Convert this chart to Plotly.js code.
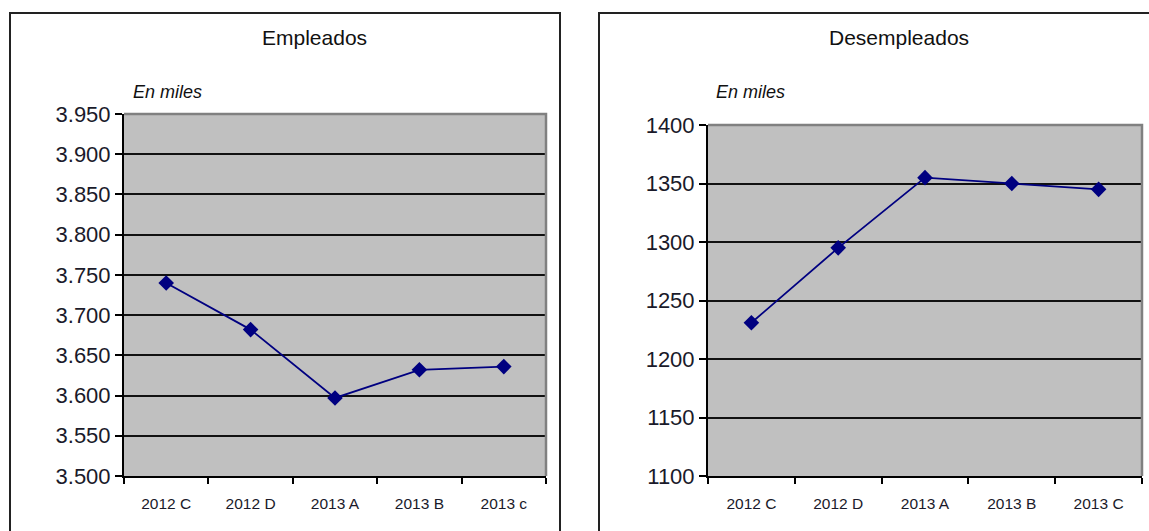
<!DOCTYPE html>
<html>
<head>
<meta charset="utf-8">
<script src="https://cdn.plot.ly/plotly-3.0.1.min.js"></script>
<style>html,body{margin:0;padding:0;background:#fff;}#chart{width:1149px;height:531px;}</style>
</head>
<body>
<div id="chart"></div>
<script>
const categoriesEmp = ["2012 C", "2012 D", "2013 A", "2013 B", "2013 c"];
const empleados = [3740, 3682, 3597, 3632, 3636];
const categoriesDes = ["2012 C", "2012 D", "2013 A", "2013 B", "2013 C"];
const desempleados = [1231, 1295, 1355, 1350, 1345];
const titleEmp = "Empleados";
const titleDes = "Desempleados";
const unitLabel = "En miles";

const W = 1149, H = 531;
const px = v => v / W;
const py = v => 1 - v / H;

const navy = "#000080";
const fontFam = "Liberation Sans, Arial, sans-serif";

const traces = [
  {x: categoriesEmp, y: empleados, type: "scatter", mode: "lines+markers",
   xaxis: "x", yaxis: "y",
   line: {color: navy, width: 1.8},
   marker: {symbol: "diamond", size: 12, color: navy}},
  {x: categoriesDes, y: desempleados, type: "scatter", mode: "lines+markers",
   xaxis: "x2", yaxis: "y2",
   line: {color: navy, width: 1.8},
   marker: {symbol: "diamond", size: 12, color: navy}}
];

const xCommon = {
  type: "category", tickson: "boundaries", ticks: "outside", ticklen: 6, tickwidth: 2, tickcolor: "#000",
  showline: true, linecolor: "#000", linewidth: 2, showgrid: false, zeroline: false,
  range: [-0.5, 4.5], fixedrange: true, ticklabelstandoff: 12,
  tickfont: {family: fontFam, size: 15.5, color: "#1a1a2a"}
};
const yCommon = {
  ticks: "outside", ticklen: 7, tickwidth: 2, tickcolor: "#000",
  showline: true, linecolor: "#000", linewidth: 2,
  showgrid: true, gridcolor: "#111", gridwidth: 2, zeroline: false, dtick: 50,
  tickfont: {family: fontFam, size: 22, color: "#1a1a2a"}
};

const layout = {
  width: W, height: H,
  margin: {l: 0, r: 0, t: 0, b: 0},
  paper_bgcolor: "#fff", plot_bgcolor: "#c0c0c0",
  showlegend: false,
  separators: ",.",
  xaxis: Object.assign({}, xCommon, {domain: [px(124), px(546)], anchor: "y"}),
  yaxis: Object.assign({}, yCommon, {domain: [1 - 476 / H, 1 - 114 / H], anchor: "x", range: [3500, 3950], tickformat: ",.0f"}),
  xaxis2: Object.assign({}, xCommon, {domain: [px(708), px(1142)], anchor: "y2"}),
  yaxis2: Object.assign({}, yCommon, {domain: [1 - 476 / H, 1 - 125 / H], anchor: "x2", range: [1100, 1400], tickformat: "d"}),
  shapes: [
    {type: "path", xref: "paper", yref: "paper", layer: "above",
     path: `M ${px(10)} ${py(560)} L ${px(10)} ${py(13)} L ${px(560)} ${py(13)} L ${px(560)} ${py(560)}`,
     line: {color: "#222", width: 2}},
    {type: "path", xref: "paper", yref: "paper", layer: "above",
     path: `M ${px(599)} ${py(560)} L ${px(599)} ${py(13)} L ${px(1160)} ${py(13)}`,
     line: {color: "#222", width: 2}},
    {type: "path", xref: "paper", yref: "paper", layer: "above",
     path: `M ${px(124)} ${py(114)} L ${px(546)} ${py(114)} L ${px(546)} ${py(476)}`,
     line: {color: "#808080", width: 2.5}},
    {type: "path", xref: "paper", yref: "paper", layer: "above",
     path: `M ${px(708)} ${py(125)} L ${px(1142)} ${py(125)} L ${px(1142)} ${py(476)}`,
     line: {color: "#808080", width: 2.5}}
  ],
  annotations: [
    {text: titleEmp, xref: "paper", yref: "paper", x: px(314), y: py(38), xanchor: "center", yanchor: "middle",
     showarrow: false, font: {family: fontFam, size: 21, color: "#111"}},
    {text: titleDes, xref: "paper", yref: "paper", x: px(899), y: py(37), xanchor: "center", yanchor: "middle",
     showarrow: false, font: {family: fontFam, size: 21, color: "#111"}},
    {text: "<i>" + unitLabel + "</i>", xref: "paper", yref: "paper", x: px(131), y: py(92), xanchor: "left", yanchor: "middle",
     showarrow: false, font: {family: fontFam, size: 18, color: "#111"}},
    {text: "<i>" + unitLabel + "</i>", xref: "paper", yref: "paper", x: px(714), y: py(92), xanchor: "left", yanchor: "middle",
     showarrow: false, font: {family: fontFam, size: 18, color: "#111"}}
  ]
};

Plotly.newPlot("chart", traces, layout, {displayModeBar: false, staticPlot: true});
</script>
</body>
</html>
